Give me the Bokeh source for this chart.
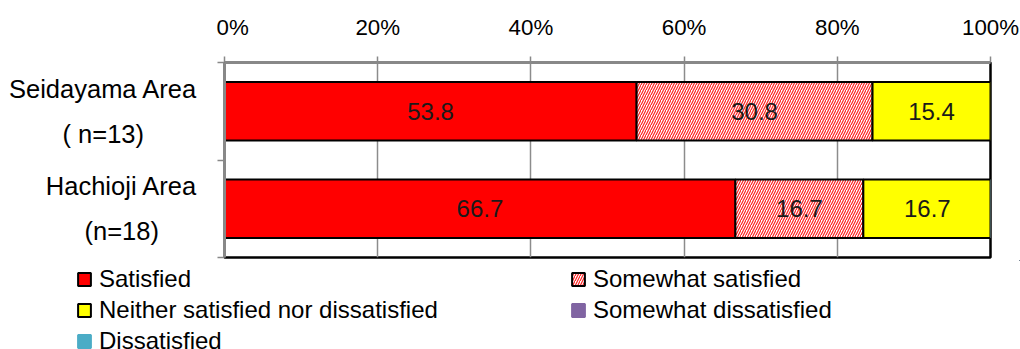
import numpy as np
from bokeh.plotting import figure
from bokeh.layouts import row, column
from bokeh.models import (ColumnDataSource, Range1d, LinearAxis,
                          FixedTicker, Legend, LegendItem)
from bokeh.core.properties import value
from bokeh.embed import file_html
from bokeh.resources import INLINE

# ---- data ----
areas = ["Seidayama Area\n( n=13)", "Hachioji Area\n(n=18)"]
categories = ["Satisfied", "Somewhat satisfied", "Neither satisfied nor dissatisfied",
              "Somewhat dissatisfied", "Dissatisfied"]
satisfied = [53.8, 66.7]
somewhat_satisfied = [30.8, 16.7]
neither = [15.4, 16.7]
somewhat_dissatisfied = [0.0, 0.0]
dissatisfied = [0.0, 0.0]
x_ticks = [0, 20, 40, 60, 80, 100]
x_tick_labels = ["0%", "20%", "40%", "60%", "80%", "100%"]

series = [satisfied, somewhat_satisfied, neither, somewhat_dissatisfied, dissatisfied]

# category slots: first area at the top
n = len(areas)
ypos = [n - i - 0.5 for i in range(n)]

# ---- styles ----
FONT = "Liberation Sans"
styles = [
    dict(fill_color="#FF0000", line_color="black"),
    dict(fill_color="white", line_color="black", hatch_pattern="/", hatch_color="#FF2020",
         hatch_scale=5, hatch_weight=1.2),
    dict(fill_color="#FFFF00", line_color="black"),
    dict(fill_color="#8064A2", line_color=None),
    dict(fill_color="#4BACC6", line_color=None),
]

TOP_H = 260
LAB_W = 216
yr = Range1d(0, n)

# ---- category label panel ----
pl = figure(width=LAB_W, height=TOP_H, output_backend="svg", toolbar_location=None,
            x_range=Range1d(0, LAB_W), y_range=yr,
            x_axis_location=None, y_axis_location=None,
            min_border_left=0, min_border_right=0, min_border_top=62, min_border_bottom=3)
pl.outline_line_color = None
pl.grid.visible = False
pl.text(x=[197] * n, y=ypos, text=areas, anchor="center_right", text_align="center",
        text_baseline="middle", text_font=value(FONT), text_font_size="25.5px",
        text_color="black", text_line_height=1.62)

# ---- main plot ----
p = figure(width=1020 - LAB_W, height=TOP_H, output_backend="svg", toolbar_location=None,
           x_range=Range1d(0, 100), y_range=yr,
           x_axis_location="above", y_axis_location=None,
           min_border_left=8, min_border_right=30, min_border_top=62, min_border_bottom=3)
p.background_fill_color = "white"
p.border_fill_color = "white"
p.outline_line_color = "black"
p.outline_line_width = 2.5

xa = p.xaxis[0]
xa.ticker = FixedTicker(ticks=x_ticks)
xa.major_label_overrides = {t: l for t, l in zip(x_ticks, x_tick_labels)}
xa.axis_line_color = "#888888"
xa.axis_line_width = 3
xa.major_tick_line_color = "#888888"
xa.major_tick_line_width = 1.5
xa.major_tick_out = 6
xa.major_tick_in = 0
xa.minor_tick_line_color = None
xa.major_label_text_font = FONT
xa.major_label_text_font_size = "22.3px"
xa.major_label_text_color = "black"
xa.major_label_standoff = 17

p.xgrid.ticker = FixedTicker(ticks=x_ticks)
p.xgrid.grid_line_color = "#8c8c8c"
p.xgrid.grid_line_width = 1.5
p.ygrid.grid_line_color = None

num_axis = LinearAxis(ticker=FixedTicker(ticks=list(range(n + 1))),
                      major_label_text_font_size="0px", axis_line_color="#888888",
                      axis_line_width=3, major_tick_line_color="#888888",
                      major_tick_line_width=1.5, major_tick_out=7, major_tick_in=0,
                      minor_tick_line_color=None, major_label_standoff=0)
p.add_layout(num_axis, "left")

left = np.zeros(n)
lab_x, lab_y, lab_t = [], [], []
for vals, st in zip(series, styles):
    vals = np.array(vals, dtype=float)
    right = left + vals
    src = ColumnDataSource(dict(y=ypos, left=left, right=right))
    p.hbar(y="y", left="left", right="right", height=0.6, source=src, line_width=2, **st)
    for yy, l, v in zip(ypos, left, vals):
        if v > 0:
            lab_x.append(l + v / 2)
            lab_y.append(yy)
            lab_t.append(f"{v:.1f}")
    left = right

p.text(x="x", y="y", text="t", source=ColumnDataSource(dict(x=lab_x, y=lab_y, t=lab_t)),
       text_font=value(FONT), text_font_size="24px", text_color="#1a1a1a",
       text_align="center", text_baseline="middle")

# ---- legend panel (swatches only: their single box lies outside the visible range) ----
LEG_H = 349 - TOP_H
pg = figure(width=1020, height=LEG_H, output_backend="svg", toolbar_location=None,
            x_range=Range1d(0, 1), y_range=Range1d(0, 1),
            x_axis_location=None, y_axis_location=None,
            min_border_left=0, min_border_right=0, min_border_top=0, min_border_bottom=0)
pg.outline_line_color = None
pg.grid.visible = False
swatch_src = ColumnDataSource(dict(y=[20.0], left=[20.0], right=[21.0]))
items = []
for c, st in zip(categories, styles):
    sw = dict(st)
    if sw["line_color"] is None:
        sw["line_color"] = sw["fill_color"]
    r = pg.hbar(y="y", left="left", right="right", height=0.5, source=swatch_src,
                line_width=2, **sw)
    items.append(LegendItem(label=c, renderers=[r]))
legend = Legend(items=items, location=(76, -6), orientation="horizontal", ncols=2,
                glyph_width=16, glyph_height=16, label_standoff=7,
                label_width=468, label_height=27, spacing=3, padding=0, margin=0,
                label_text_font=FONT, label_text_font_size="24px", label_text_color="black",
                border_line_color=None, background_fill_alpha=0)
pg.add_layout(legend, "center")

layout = column(row(pl, p, spacing=0), pg, spacing=0)
open("out.html", "w").write(file_html(layout, INLINE))
